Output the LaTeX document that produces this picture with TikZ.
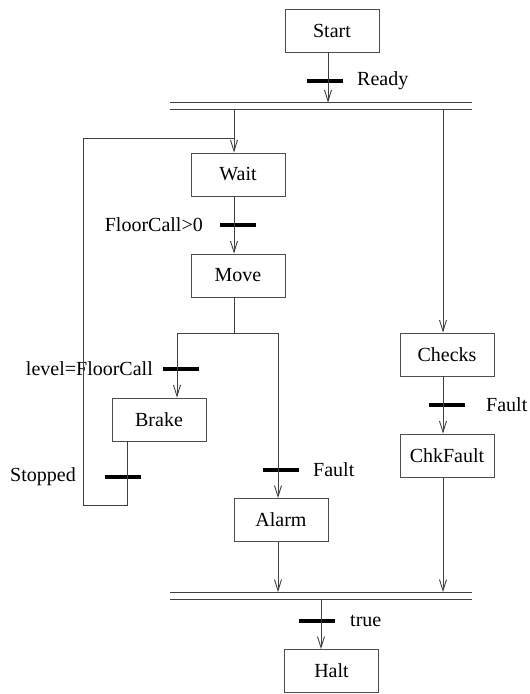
\documentclass[tikz,border=0pt]{standalone}
\usepackage{fontspec}
\setmainfont{Liberation Serif}
\usetikzlibrary{arrows.meta}
\tikzset{
  stepbox/.style={draw=black!70,line width=0.9pt,minimum width=94pt,minimum height=43pt,inner sep=0pt,font=\rmfamily\fontsize{20}{24}\selectfont},
  tbar/.style={fill=black,minimum width=36pt,minimum height=3.5pt,inner sep=0pt},
  cond/.style={font=\rmfamily\fontsize{20}{24}\selectfont,inner sep=0pt},
  sync/.style={minimum width=302pt,minimum height=6.5pt,inner sep=0pt},
  flow/.style={draw=black!75,line width=0.9pt},
  into/.style={flow,-{Straight Barb[length=11pt,width=7pt]}},
}
\begin{document}
\begin{tikzpicture}[x=1pt,y=-1pt]
  \useasboundingbox (0,0) rectangle (530,694);

  % Steps
  \node[stepbox] (start) at (332,30.5) {Start};
  \node[stepbox] (wait) at (238,174.5) {Wait};
  \node[stepbox] (move) at (238,275.5) {Move};
  \node[stepbox] (brake) at (159,419.5) {Brake};
  \node[stepbox] (alarm) at (281,520) {Alarm};
  \node[stepbox] (checks) at (447,354.5) {Checks};
  \node[stepbox] (chkfault) at (447,455.5) {ChkFault};
  \node[stepbox] (halt) at (331.5,671) {Halt};

  % Fork and join (double lines)
  \node[sync] (fork) at (321,106) {};
  \node[sync] (join) at (321,595.5) {};
  \draw[flow] (fork.north west) -- (fork.north east) (fork.south west) -- (fork.south east);
  \draw[flow] (join.north west) -- (join.north east) (join.south west) -- (join.south east);

  % Transitions
  \node[tbar] (tready) at (325,81) {};
  \node[cond,anchor=west] (lready) at (357,81) {Ready};
  \node[tbar] (tcall) at (238,225) {};
  \node[cond,anchor=east] (lcall) at (203,225) {FloorCall>0};
  \node[tbar] (tlevel) at (180.5,369) {};
  \node[cond,anchor=east] (llevel) at (153,369) {level=FloorCall};
  \node[tbar] (tstop) at (123,477) {};
  \node[cond,anchor=east] (lstop) at (76,477) {Stopped};
  \node[tbar] (tfault) at (281,470) {};
  \node[cond,anchor=west] (lfault) at (313,470) {Fault};
  \node[tbar] (tchk) at (447,405) {};
  \node[cond,anchor=west] (lchk) at (486,405) {Fault};
  \node[tbar] (ttrue) at (317,621) {};
  \node[cond,anchor=west] (ltrue) at (350,621) {true};

  % Columns of the links
  \coordinate (cstart) at (328,0);
  \coordinate (cmain) at (234,0);
  \coordinate (cbrake) at (177,0);
  \coordinate (calarm) at (278,0);
  \coordinate (cback) at (127,0);
  \coordinate (cchk) at (443,0);
  \coordinate (chalt) at (321,0);
  \coordinate (split) at (234,333);
  \coordinate (loop) at (83,138);

  % Links
  \draw[into] (start.south -| cstart) -- (fork.north -| cstart);
  \draw[into] (fork.south -| cmain) -- (wait.north -| cmain);
  \draw[into] (wait.south -| cmain) -- (move.north -| cmain);
  \draw[flow] (move.south -| cmain) -- (split);
  \draw[into] (split) -| (brake.north -| cbrake);
  \draw[into] (split) -| (alarm.north -| calarm);
  \draw[flow] (brake.south -| cback) -- ++(0,64) -| (loop) -- (loop -| cmain);
  \draw[into] (fork.south -| cchk) -- (checks.north -| cchk);
  \draw[into] (checks.south -| cchk) -- (chkfault.north -| cchk);
  \draw[into] (chkfault.south -| cchk) -- (join.north -| cchk);
  \draw[into] (alarm.south -| calarm) -- (join.north -| calarm);
  \draw[into] (join.south -| chalt) -- (halt.north -| chalt);
\end{tikzpicture}
\end{document}
